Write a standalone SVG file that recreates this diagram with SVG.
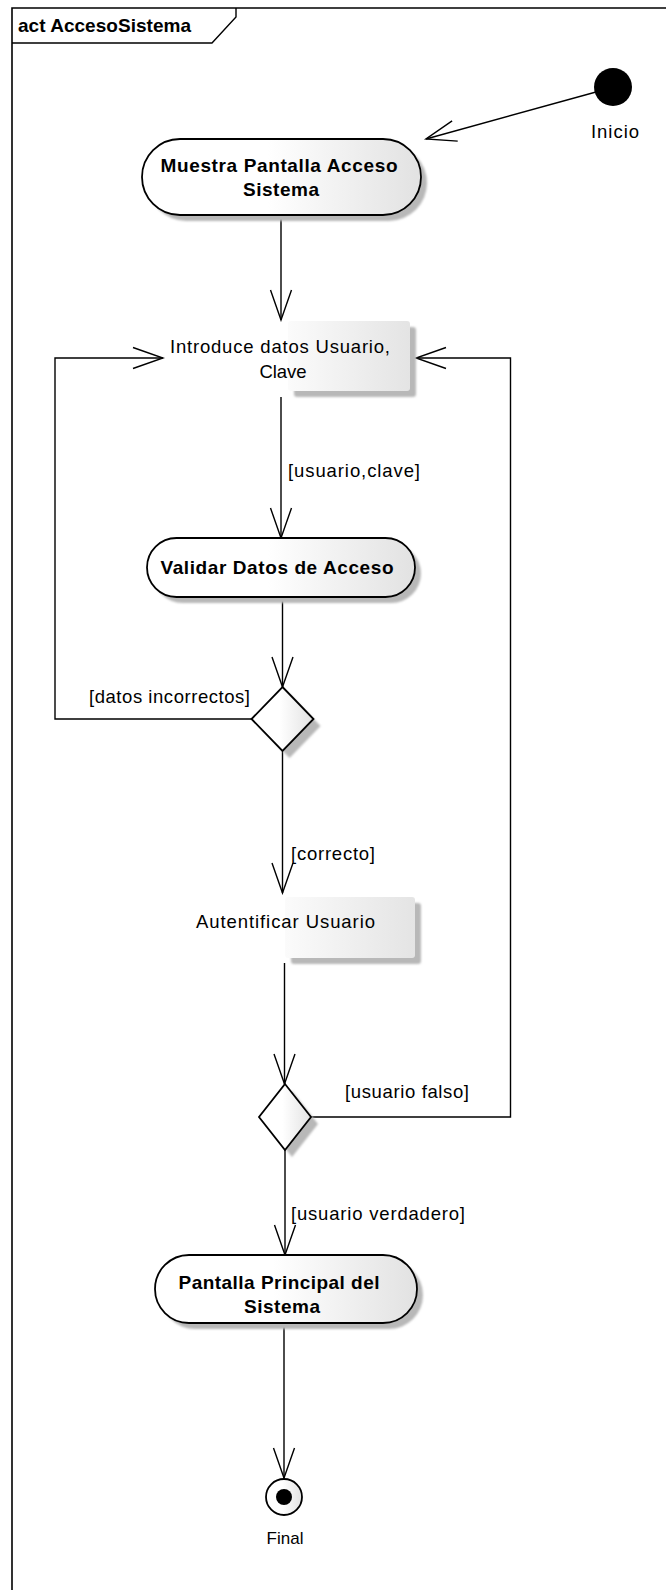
<svg xmlns="http://www.w3.org/2000/svg" width="666" height="1590" viewBox="0 0 666 1590">
<style>
.t{font-family:"Liberation Sans",Arial,sans-serif;font-size:18.5px;fill:#000}
.b{font-weight:bold;font-size:19px}
.conn{fill:none;stroke:#000;stroke-width:1.4}
.node{stroke:#000;stroke-width:1.8}
.sh{fill:#b8b8b8}
</style>
<defs>
<linearGradient id="g" x1="0" y1="0" x2="1" y2="0">
<stop offset="0" stop-color="#ffffff"/><stop offset="0.45" stop-color="#ffffff"/><stop offset="1" stop-color="#e2e2e2"/>
</linearGradient>
<linearGradient id="gb" x1="0" y1="0" x2="1" y2="0">
<stop offset="0" stop-color="#fbfbfb"/><stop offset="1" stop-color="#e4e4e4"/>
</linearGradient>
<filter id="blur" x="-10%" y="-10%" width="120%" height="120%"><feGaussianBlur stdDeviation="0.8"/></filter>
<marker id="arr" markerUnits="userSpaceOnUse" markerWidth="34" markerHeight="26" viewBox="-32 -13 34 26" refX="0" refY="0" orient="auto">
<path d="M-30,-10.5 L0,0 L-30,10.5" fill="none" stroke="#000" stroke-width="1.4"/>
</marker>
</defs>

<g id="frame">
<path d="M666 8 H12 V1590" fill="none" stroke="#000" stroke-width="1.6"/>
<path d="M12 43 H212 L236 17 V8" fill="none" stroke="#000" stroke-width="1.4"/>
<text class="t b" x="18" y="32" textLength="173" lengthAdjust="spacing">act AccesoSistema</text>
</g>

<g id="connectors">
<path class="conn" d="M596 92 L426 139" marker-end="url(#arr)"/>
<path class="conn" d="M281 215 V320" marker-end="url(#arr)"/>
<path class="conn" d="M281 397 V538" marker-end="url(#arr)"/>
<path class="conn" d="M282.5 597 V687" marker-end="url(#arr)"/>
<path class="conn" d="M282.5 751 V893" marker-end="url(#arr)"/>
<path class="conn" d="M251.5 719 H55 V358 H163" marker-end="url(#arr)"/>
<path class="conn" d="M284.5 963 V1084" marker-end="url(#arr)"/>
<path class="conn" d="M285 1150 V1255" marker-end="url(#arr)"/>
<path class="conn" d="M311 1117 H510.5 V358 H416" marker-end="url(#arr)"/>
<path class="conn" d="M284 1323 V1478" marker-end="url(#arr)"/>
<text class="t" x="288" y="477" textLength="132" lengthAdjust="spacing">[usuario,clave]</text>
<text class="t" x="89" y="703" textLength="161" lengthAdjust="spacing">[datos incorrectos]</text>
<text class="t" x="291" y="860" textLength="84" lengthAdjust="spacing">[correcto]</text>
<text class="t" x="345" y="1098" textLength="124" lengthAdjust="spacing">[usuario falso]</text>
<text class="t" x="291" y="1220" textLength="174" lengthAdjust="spacing">[usuario verdadero]</text>
</g>

<g id="inicio">
<circle cx="613" cy="87" r="19" fill="#000"/>
<text class="t" x="615" y="138" text-anchor="middle" textLength="48" lengthAdjust="spacing">Inicio</text>
</g>

<g id="muestra">
<rect class="sh" x="148" y="145" width="279" height="76" rx="38" filter="url(#blur)"/>
<rect class="node" x="142" y="139" width="279" height="76" rx="38" fill="url(#g)"/>
<text class="t b" x="279" y="172" text-anchor="middle" textLength="237" lengthAdjust="spacing">Muestra Pantalla Acceso</text>
<text class="t b" x="281" y="196" text-anchor="middle" textLength="76" lengthAdjust="spacing">Sistema</text>
</g>

<g id="introduce">
<rect class="sh" x="294" y="327" width="122" height="70" rx="3" filter="url(#blur)"/>
<rect x="288" y="321" width="122" height="70" rx="3" fill="url(#gb)"/>
<text class="t" x="280" y="353" text-anchor="middle" textLength="220" lengthAdjust="spacing">Introduce datos Usuario,</text>
<text class="t" x="283" y="378" text-anchor="middle" textLength="47" lengthAdjust="spacing">Clave</text>
</g>

<g id="validar">
<rect class="sh" x="153" y="544" width="268" height="59" rx="29.5" filter="url(#blur)"/>
<rect class="node" x="147" y="538" width="268" height="59" rx="29.5" fill="url(#g)"/>
<text class="t b" x="277" y="574" text-anchor="middle" textLength="233" lengthAdjust="spacing">Validar Datos de Acceso</text>
</g>

<g id="decision1">
<path class="sh" d="M289.5 694 L320.5 726 L289.5 758 L258.5 726 Z" filter="url(#blur)"/>
<path class="node" d="M282.5 687 L313.5 719 L282.5 751 L251.5 719 Z" fill="url(#g)"/>
</g>

<g id="autentificar">
<rect class="sh" x="291" y="903" width="130" height="61" rx="3" filter="url(#blur)"/>
<rect x="285" y="897" width="130" height="61" rx="3" fill="url(#gb)"/>
<text class="t" x="285.5" y="928" text-anchor="middle" textLength="179" lengthAdjust="spacing">Autentificar Usuario</text>
</g>

<g id="decision2">
<path class="sh" d="M292 1091 L318 1124 L292 1157 L266 1124 Z" filter="url(#blur)"/>
<path class="node" d="M285 1084 L311 1117 L285 1150 L259 1117 Z" fill="url(#g)"/>
</g>

<g id="pantalla">
<rect class="sh" x="161" y="1261" width="262" height="68" rx="34" filter="url(#blur)"/>
<rect class="node" x="155" y="1255" width="262" height="68" rx="34" fill="url(#g)"/>
<text class="t b" x="279" y="1289" text-anchor="middle" textLength="201" lengthAdjust="spacing">Pantalla Principal del</text>
<text class="t b" x="282" y="1313" text-anchor="middle" textLength="76" lengthAdjust="spacing">Sistema</text>
</g>

<g id="final">
<circle class="node" cx="284" cy="1497" r="18" fill="url(#g)"/>
<circle cx="284" cy="1497" r="8" fill="#000"/>
<text class="t" x="285" y="1544" text-anchor="middle" style="font-size:17px">Final</text>
</g>
</svg>
